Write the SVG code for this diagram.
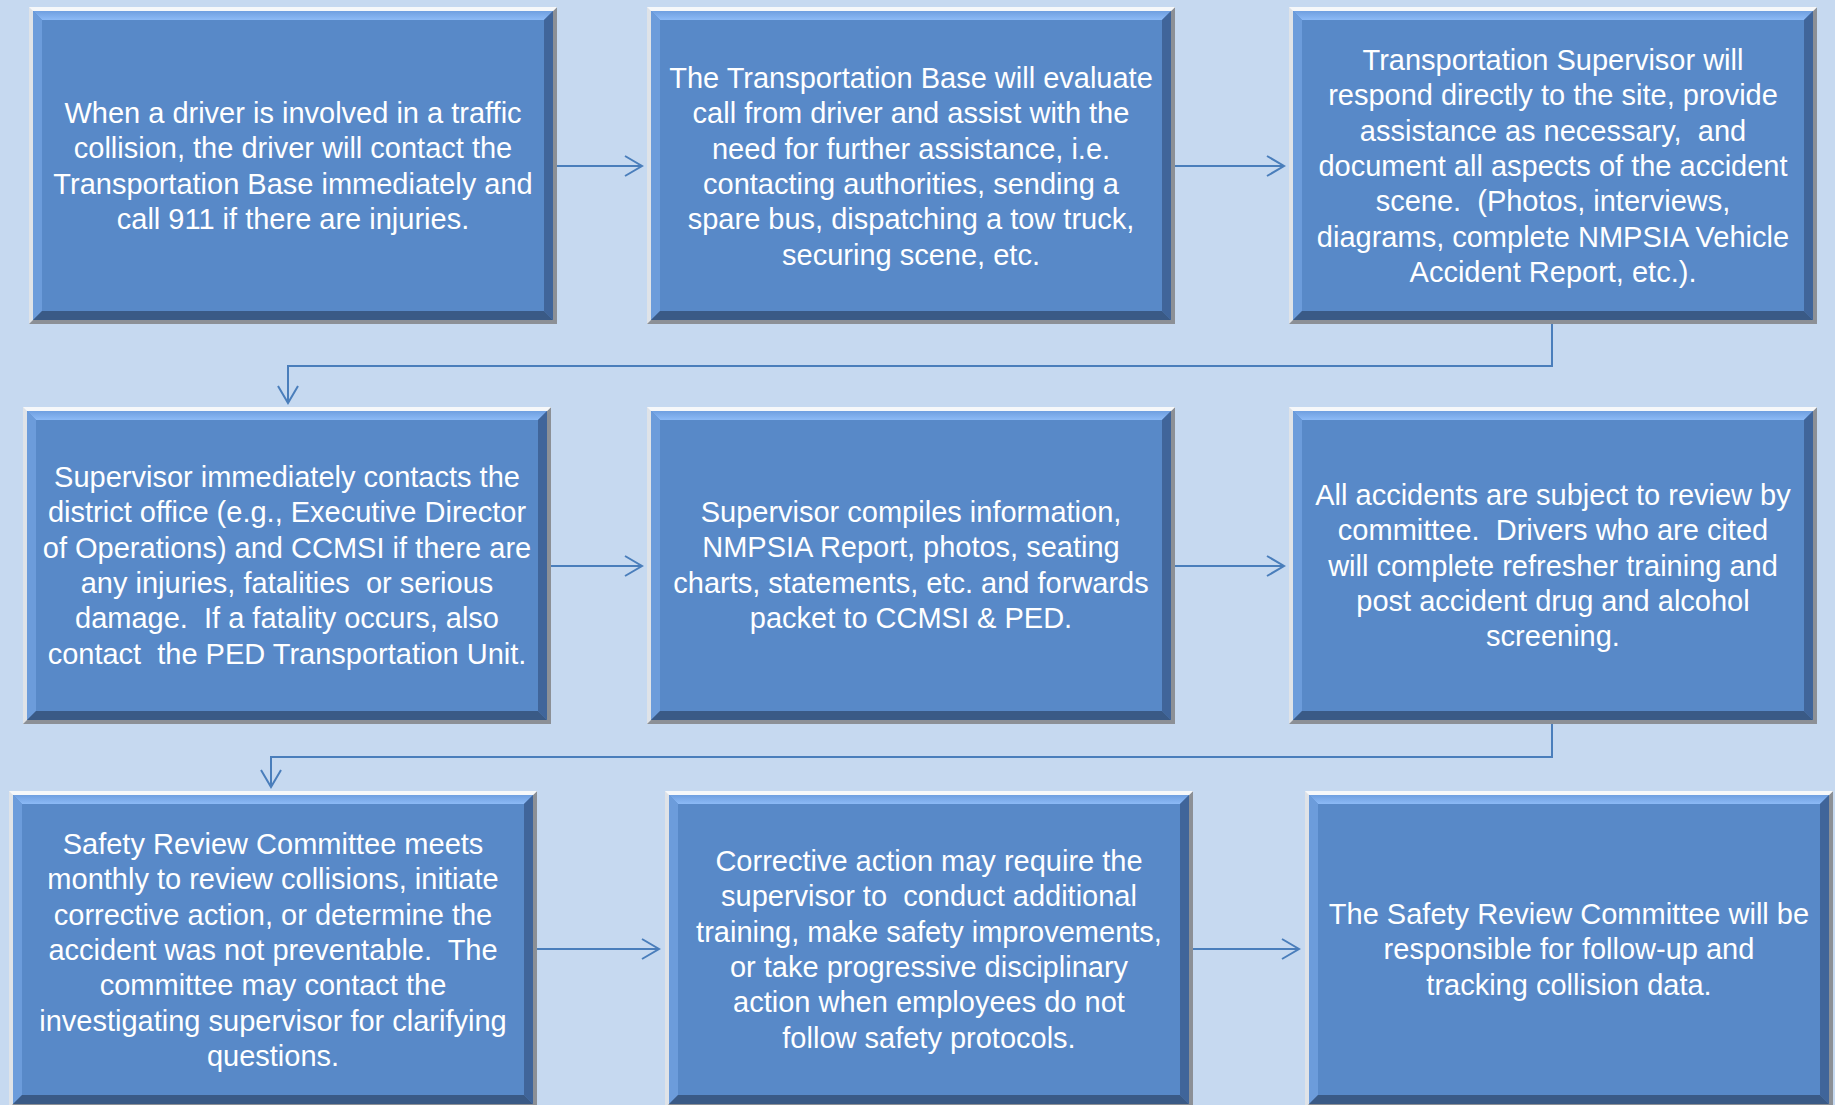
<svg xmlns="http://www.w3.org/2000/svg" xmlns:xlink="http://www.w3.org/1999/xlink" width="1835" height="1105" viewBox="0 0 1835 1105">
<style>
.t{font-family:"Liberation Sans",Arial,sans-serif;font-size:29px;fill:#ffffff;text-anchor:middle;white-space:pre}
.c{fill:none;stroke:#4a7ebb;stroke-width:2}
</style>
<defs>
<linearGradient id="topbev" x1="0" y1="0" x2="0" y2="1"><stop offset="0" stop-color="#6f9fe0"/><stop offset="1" stop-color="#8cbaf6"/></linearGradient>
<marker id="arr" markerWidth="22" markerHeight="24" refX="18" refY="11" orient="auto" markerUnits="userSpaceOnUse" overflow="visible">
<path d="M1,1 L18,11 L1,21" fill="none" stroke="#4a7ebb" stroke-width="2"/>
</marker>
<g id="box">
<rect x="0" y="0" width="528" height="317" fill="#8c9096"/>
<polygon points="0,0 528,0 524,4 4,4 4,313 0,317" fill="#dfe3e8"/>
<polygon points="0,0 528,0 524,4 4,4" fill="#f6f8fa"/>
<rect x="4" y="4" width="520" height="309" fill="#5889c8"/>
<polygon points="4,4 524,4 515,13 13,13" fill="url(#topbev)"/>
<polygon points="4,4 13,13 13,304 4,313" fill="#6c9cdb"/>
<polygon points="524,4 524,313 515,304 515,13" fill="#40659a"/>
<polygon points="4,313 13,304 515,304 524,313" fill="#3a5a86"/>
</g>
</defs>
<rect width="1835" height="1105" fill="#c6d9f0"/>
<g id="connectors">
<path class="c" d="M557,166 H642" marker-end="url(#arr)"/>
<path class="c" d="M1175,166 H1284" marker-end="url(#arr)"/>
<path class="c" d="M1552,324 V366 H288 V403" marker-end="url(#arr)"/>
<path class="c" d="M551,566 H642" marker-end="url(#arr)"/>
<path class="c" d="M1175,566 H1284" marker-end="url(#arr)"/>
<path class="c" d="M1552,724 V757 H271 V787" marker-end="url(#arr)"/>
<path class="c" d="M536,949 H659" marker-end="url(#arr)"/>
<path class="c" d="M1193,949 H1299" marker-end="url(#arr)"/>
</g>
<g id="n1">
<use xlink:href="#box" x="29" y="7"/>
<text class="t" x="293" y="123"><tspan x="293">When a driver is involved in a traffic</tspan><tspan x="293" dy="35.3">collision, the driver will contact the</tspan><tspan x="293" dy="35.3">Transportation Base immediately and</tspan><tspan x="293" dy="35.3">call 911 if there are injuries.</tspan></text>
</g>
<g id="n2">
<use xlink:href="#box" x="647" y="7"/>
<text class="t" x="911" y="88"><tspan x="911">The Transportation Base will evaluate</tspan><tspan x="911" dy="35.3">call from driver and assist with the</tspan><tspan x="911" dy="35.3">need for further assistance, i.e.</tspan><tspan x="911" dy="35.3">contacting authorities, sending a</tspan><tspan x="911" dy="35.3">spare bus, dispatching a tow truck,</tspan><tspan x="911" dy="35.3">securing scene, etc.</tspan></text>
</g>
<g id="n3">
<use xlink:href="#box" x="1289" y="7"/>
<text class="t" x="1553" y="70"><tspan x="1553">Transportation Supervisor will</tspan><tspan x="1553" dy="35.3">respond directly to the site, provide</tspan><tspan x="1553" dy="35.3">assistance as necessary,  and</tspan><tspan x="1553" dy="35.3">document all aspects of the accident</tspan><tspan x="1553" dy="35.3">scene.  (Photos, interviews,</tspan><tspan x="1553" dy="35.3">diagrams, complete NMPSIA Vehicle</tspan><tspan x="1553" dy="35.3">Accident Report, etc.).</tspan></text>
</g>
<g id="n4">
<use xlink:href="#box" x="23" y="407"/>
<text class="t" x="287" y="487"><tspan x="287">Supervisor immediately contacts the</tspan><tspan x="287" dy="35.3">district office (e.g., Executive Director</tspan><tspan x="287" dy="35.3">of Operations) and CCMSI if there are</tspan><tspan x="287" dy="35.3">any injuries, fatalities  or serious</tspan><tspan x="287" dy="35.3">damage.  If a fatality occurs, also</tspan><tspan x="287" dy="35.3">contact  the PED Transportation Unit.</tspan></text>
</g>
<g id="n5">
<use xlink:href="#box" x="647" y="407"/>
<text class="t" x="911" y="522"><tspan x="911">Supervisor compiles information,</tspan><tspan x="911" dy="35.3">NMPSIA Report, photos, seating</tspan><tspan x="911" dy="35.3">charts, statements, etc. and forwards</tspan><tspan x="911" dy="35.3">packet to CCMSI &amp; PED.</tspan></text>
</g>
<g id="n6">
<use xlink:href="#box" x="1289" y="407"/>
<text class="t" x="1553" y="505"><tspan x="1553">All accidents are subject to review by</tspan><tspan x="1553" dy="35.3">committee.  Drivers who are cited</tspan><tspan x="1553" dy="35.3">will complete refresher training and</tspan><tspan x="1553" dy="35.3">post accident drug and alcohol</tspan><tspan x="1553" dy="35.3">screening.</tspan></text>
</g>
<g id="n7">
<use xlink:href="#box" x="9" y="791"/>
<text class="t" x="273" y="854"><tspan x="273">Safety Review Committee meets</tspan><tspan x="273" dy="35.3">monthly to review collisions, initiate</tspan><tspan x="273" dy="35.3">corrective action, or determine the</tspan><tspan x="273" dy="35.3">accident was not preventable.  The</tspan><tspan x="273" dy="35.3">committee may contact the</tspan><tspan x="273" dy="35.3">investigating supervisor for clarifying</tspan><tspan x="273" dy="35.3">questions.</tspan></text>
</g>
<g id="n8">
<use xlink:href="#box" x="665" y="791"/>
<text class="t" x="929" y="871"><tspan x="929">Corrective action may require the</tspan><tspan x="929" dy="35.3">supervisor to  conduct additional</tspan><tspan x="929" dy="35.3">training, make safety improvements,</tspan><tspan x="929" dy="35.3">or take progressive disciplinary</tspan><tspan x="929" dy="35.3">action when employees do not</tspan><tspan x="929" dy="35.3">follow safety protocols.</tspan></text>
</g>
<g id="n9">
<use xlink:href="#box" x="1305" y="791"/>
<text class="t" x="1569" y="924"><tspan x="1569">The Safety Review Committee will be</tspan><tspan x="1569" dy="35.3">responsible for follow-up and</tspan><tspan x="1569" dy="35.3">tracking collision data.</tspan></text>
</g>
</svg>
